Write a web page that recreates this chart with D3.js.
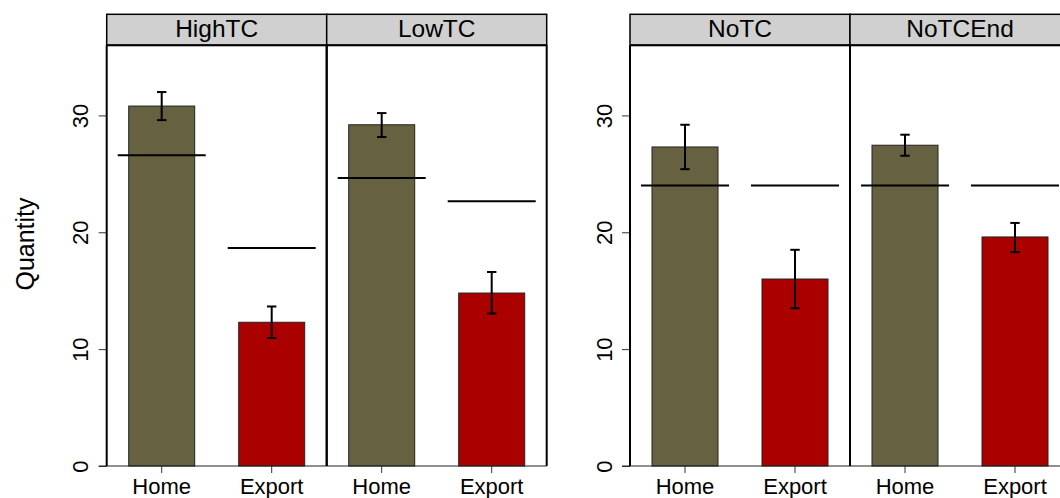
<!DOCTYPE html>
<html>
<head>
<meta charset="utf-8">
<script src="https://cdn.jsdelivr.net/npm/d3@7"></script>
<style>
  body { margin: 0; background: #fff; }
  svg { display: block; font-family: "Liberation Sans", Arial, sans-serif; }
</style>
</head>
<body>
<div id="chart"></div>
<script>
// facets, drawn as two groups of two panels
const groups = [["HighTC", "LowTC"], ["NoTC", "NoTCEnd"]];
const panels = ["HighTC", "LowTC", "NoTC", "NoTCEnd"];
const categories = ["Home", "Export"];

// bar heights and error bar ends, in panel order
const homeMean = [30.8, 29.2, 27.3, 27.45];
const homeLow = [29.6, 28.15, 25.4, 26.55];
const homeHigh = [32.0, 30.2, 29.2, 28.35];
const exportMean = [12.3, 14.8, 16.0, 19.6];
const exportLow = [10.95, 13.05, 13.5, 18.3];
const exportHigh = [13.65, 16.6, 18.5, 20.8];

// black reference segments
const homeRef = [26.6, 24.65, 24, 24];
const exportRef = [18.65, 22.65, 24, 24];

const yTicks = [0, 10, 20, 30];

const width = 1060, height = 498;
const plotTop = 45.3, plotBottom = 466, stripTop = 14.3;
const groupLeft = [106.7, 630];
const facetW = 220;
const colors = {Home: "#656141", Export: "#aa0000"};

// long table built from the arrays
const rows = [];
panels.forEach((p, i) => {
  rows.push({panel: p, cat: "Home", mean: homeMean[i], lo: homeLow[i], hi: homeHigh[i], ref: homeRef[i]});
  rows.push({panel: p, cat: "Export", mean: exportMean[i], lo: exportLow[i], hi: exportHigh[i], ref: exportRef[i]});
});

const svg = d3.select("#chart")
  .append("svg")
  .attr("width", width)
  .attr("height", height);

const y = d3.scaleLinear()
  .domain([0, 36])
  .range([plotBottom, plotTop]);

const inner = d3.scaleBand()
  .domain(categories)
  .range([0, facetW])
  .paddingInner(0.4)
  .paddingOuter(0.2);

groups.forEach((grp, gi) => {
  const left = groupLeft[gi];
  const facet = d3.scaleBand()
    .domain(grp)
    .range([left, left + facetW * grp.length]);

  // y axis, labels turned on their side
  const yAxis = svg.append("g")
    .attr("transform", `translate(${left}, 0)`)
    .call(d3.axisLeft(y).tickValues(yTicks).tickSize(8).tickPadding(0));
  yAxis.select(".domain").remove();
  yAxis.selectAll(".tick line").attr("stroke", "#333");
  yAxis.selectAll(".tick text")
    .attr("x", null).attr("dy", null)
    .attr("text-anchor", "middle")
    .attr("transform", "translate(-18.5, 0) rotate(-90)")
    .attr("font-size", 22)
    .attr("fill", "#000");

  grp.forEach(p => {
    const x0 = facet(p);
    const g = svg.append("g").attr("transform", `translate(${x0}, 0)`);
    const data = rows.filter(d => d.panel === p);

    g.selectAll("rect.bar")
      .data(data)
      .enter()
      .append("rect")
        .attr("class", "bar")
        .attr("x", d => inner(d.cat))
        .attr("y", d => y(d.mean))
        .attr("width", inner.bandwidth())
        .attr("height", d => y(0) - y(d.mean))
        .attr("fill", d => colors[d.cat])
        .attr("stroke", "#222")
        .attr("stroke-width", 1);

    // error bars
    const cx = d => inner(d.cat) + inner.bandwidth() / 2;
    g.selectAll("line.err")
      .data(data)
      .enter()
      .append("line")
        .attr("x1", cx).attr("x2", cx)
        .attr("y1", d => y(d.lo)).attr("y2", d => y(d.hi))
        .attr("stroke", "#000").attr("stroke-width", 2);
    ["lo", "hi"].forEach(k => {
      g.selectAll(null)
        .data(data)
        .enter()
        .append("line")
          .attr("x1", d => cx(d) - 4.7).attr("x2", d => cx(d) + 4.7)
          .attr("y1", d => y(d[k])).attr("y2", d => y(d[k]))
          .attr("stroke", "#000").attr("stroke-width", 2);
    });

    // reference segments
    const half = inner.step() * 0.4;
    g.selectAll("line.ref")
      .data(data)
      .enter()
      .append("line")
        .attr("x1", d => cx(d) - half).attr("x2", d => cx(d) + half)
        .attr("y1", d => y(d.ref)).attr("y2", d => y(d.ref))
        .attr("stroke", "#000").attr("stroke-width", 2);

    // x axis
    const xAxis = g.append("g")
      .attr("transform", `translate(0, ${plotBottom})`)
      .call(d3.axisBottom(inner).tickSize(7).tickPadding(5));
    xAxis.select(".domain").remove();
    xAxis.selectAll(".tick line").attr("stroke", "#333");
    xAxis.selectAll(".tick text")
      .attr("font-size", 22)
      .attr("fill", "#000");

    // strip
    g.append("rect")
      .attr("x", 0).attr("y", stripTop)
      .attr("width", facetW).attr("height", plotTop - stripTop)
      .attr("fill", "#d0d0d0")
      .attr("stroke", "#000").attr("stroke-width", 1.5);
    g.append("text")
      .attr("x", facetW / 2).attr("y", 36.5)
      .attr("text-anchor", "middle")
      .attr("font-size", 24.5)
      .text(p);

    // frame
    g.append("line")
      .attr("x1", 0).attr("x2", facetW)
      .attr("y1", plotTop).attr("y2", plotTop)
      .attr("stroke", "#000").attr("stroke-width", 2);
    g.append("line")
      .attr("x1", -8 * (p === grp[0] ? 1 : 0)).attr("x2", facetW)
      .attr("y1", plotBottom).attr("y2", plotBottom)
      .attr("stroke", "#222").attr("stroke-width", 1.2);
    [0, facetW].forEach(xx => {
      g.append("line")
        .attr("x1", xx).attr("x2", xx)
        .attr("y1", plotTop).attr("y2", plotBottom)
        .attr("stroke", "#000").attr("stroke-width", 2);
    });
  });
});

svg.append("text")
  .attr("text-anchor", "middle")
  .attr("transform", "translate(34, 244) rotate(-90)")
  .attr("font-size", 25)
  .text("Quantity");
</script>
</body>
</html>
